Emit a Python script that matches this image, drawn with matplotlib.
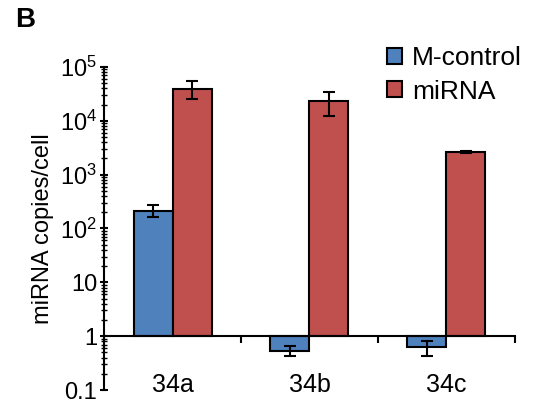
import numpy as np
import matplotlib.pyplot as plt
from matplotlib.ticker import FixedLocator, LogLocator, NullFormatter

plt.rcParams['font.family'] = ['Liberation Sans', 'DejaVu Sans']
plt.rcParams['mathtext.fontset'] = 'custom'
plt.rcParams['mathtext.rm'] = 'Liberation Sans'
plt.rcParams['mathtext.it'] = 'Liberation Sans:italic'
plt.rcParams['mathtext.bf'] = 'Liberation Sans:bold'

categories = ['34a', '34b', '34c']
control = [215, 0.53, 0.63]
control_lo = [166, 0.43, 0.43]
control_hi = [270, 0.66, 0.82]
mirna = [39000, 23700, 2600]
mirna_lo = [25700, 12400, 2500]
mirna_hi = [55000, 34600, 2700]
ytick_vals = [0.1, 1, 10, 100, 1000, 10000, 100000]
ytick_labels = ['0.1', '1', '10', '10$^2$', '10$^3$', '10$^4$', '10$^5$']

blue = '#4F81BD'
red = '#C0504D'

fig = plt.figure(figsize=(5.34, 4.08), dpi=100)
ax = fig.add_axes([0.195, 0.044, 0.769, 0.792])

x = np.arange(len(categories))
w = 0.285
c = np.array(control)
m = np.array(mirna)
ax.bar(x - w/2, c - 1, bottom=1, width=w, color=blue, edgecolor='black',
       linewidth=1.5, label='M-control')
ax.bar(x + w/2, m - 1, bottom=1, width=w, color=red, edgecolor='black',
       linewidth=1.5, label='miRNA')
ax.errorbar(x - w/2, c, yerr=[c - np.array(control_lo), np.array(control_hi) - c],
            fmt='none', ecolor='black', elinewidth=1.5, capsize=4, capthick=1.5)
ax.errorbar(x + w/2, m, yerr=[m - np.array(mirna_lo), np.array(mirna_hi) - m],
            fmt='none', ecolor='black', elinewidth=1.5, capsize=4, capthick=1.5)

ax.set_yscale('log')
ax.set_ylim(0.1, 1e5)
ax.set_xlim(-0.5, 2.5)
ax.yaxis.set_major_locator(FixedLocator(ytick_vals))
ax.set_yticklabels(ytick_labels, fontsize=17)
ax.yaxis.set_minor_locator(LogLocator(base=10, subs=np.arange(2, 10)))
ax.yaxis.set_minor_formatter(NullFormatter())
ax.tick_params(axis='y', which='major', direction='inout', length=6, width=1.5, pad=2)
ax.tick_params(axis='y', which='minor', direction='inout', length=4, width=1)

ax.spines['top'].set_visible(False)
ax.spines['right'].set_visible(False)
ax.spines['left'].set_linewidth(1.5)
ax.spines['bottom'].set_position(('data', 1))
ax.spines['bottom'].set_linewidth(1.5)
ax.set_xticks([0.5, 1.5, 2.5])
ax.set_xticklabels([])
ax.tick_params(axis='x', direction='out', length=5, width=1.5)
for xi, lab in zip(x, categories):
    ax.text(xi, 0.125, lab, ha='center', va='center', fontsize=18)

ax.set_ylabel('miRNA copies/cell', fontsize=17, labelpad=4)
fig.legend(*ax.get_legend_handles_labels(), loc='upper left',
           bbox_to_anchor=(0.725, 0.887), frameon=False, borderpad=0,
           borderaxespad=0, fontsize=19, handlelength=0.56, handleheight=0.56,
           handletextpad=0.38, labelspacing=0.36)
fig.text(0.028, 0.95, 'B', fontsize=20, fontweight='bold', va='center')

fig.savefig('out.png', dpi=100)
